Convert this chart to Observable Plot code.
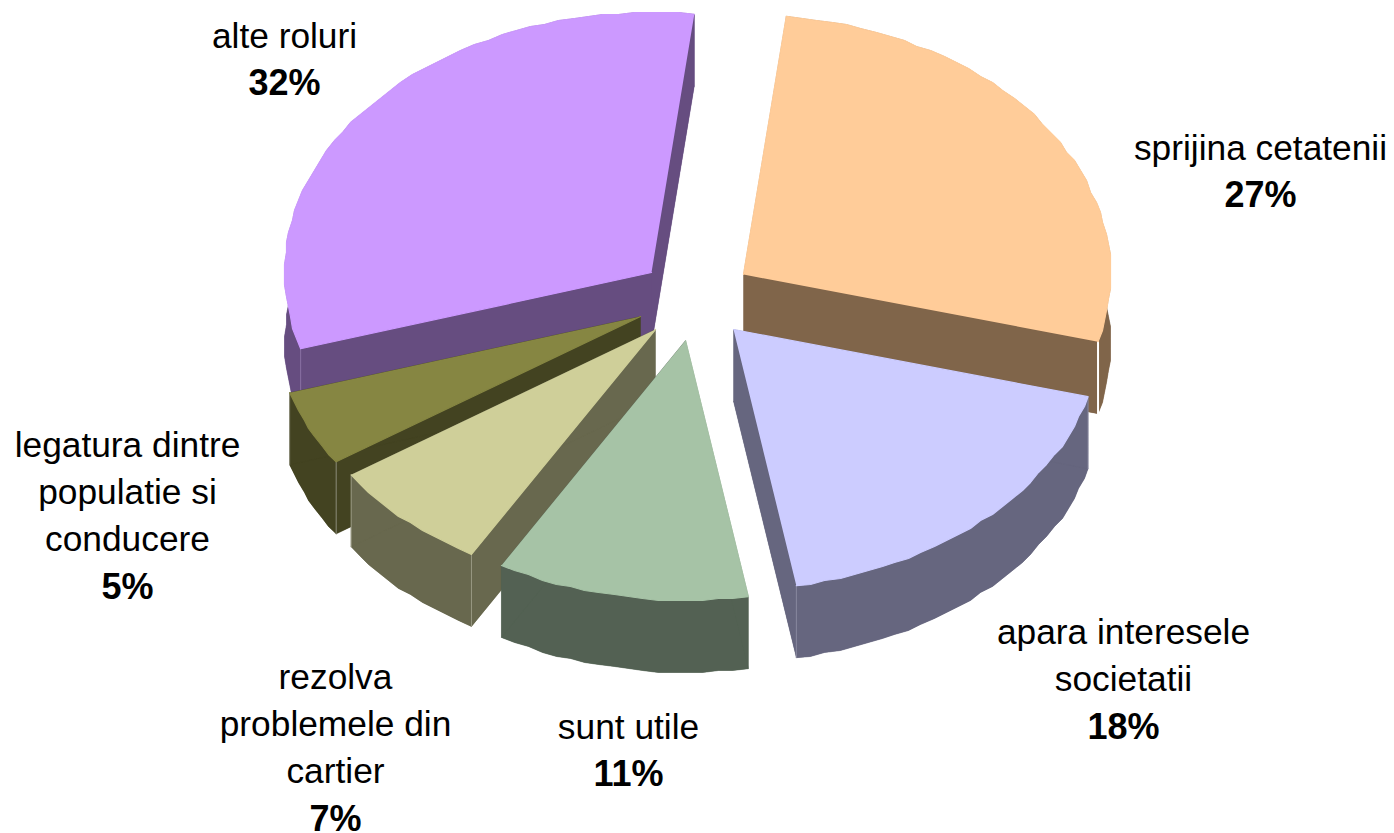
<!DOCTYPE html>
<html><head><meta charset="utf-8">
<script src="https://cdn.jsdelivr.net/npm/d3@7"></script>
<script src="https://cdn.jsdelivr.net/npm/@observablehq/plot@0.6"></script>
<style>html,body{margin:0;padding:0;background:#fff}svg{display:block}</style>
</head><body><div id="chart"></div>
<script>
const categories = ["sprijina cetatenii","apara interesele societatii","sunt utile","rezolva problemele din cartier","legatura dintre populatie si conducere","alte roluri"];
const shares = [27.3,18.1,11.1,7.2,4.7,31.6];

// Styles
const topColors  = ["#FFCC99","#CCCCFF","#A6C3A6","#CFCF99","#868642","#CC99FF"];
const sideColors = ["#80654A","#66667F","#536153","#68684E","#434321","#664D80"];
const seamColors = ["#FFFFFF","#8A8AA0","#536153","#9A9A84","#8E8E7C","#8A72A4"];

// Layout: exploded apex of every slice, its label block, drawing order
const apexX = [743,733,685,655,640,651];
const apexY = [274,329,340,329,316,272];
const labelLines = [["sprijina cetatenii"],["apara interesele","societatii"],["sunt utile"],["rezolva","problemele din","cartier"],["legatura dintre","populatie si","conducere"],["alte roluri"]];
const labelX = [1260,1123,628,335,127,284];
const labelTop = [148,632,727,677,445,36];
const paintOrder = [5,0,4,3,1,2];
const radiusX = 367, radiusY = 260, depth = 72, lineStep = 47.3, fontSize = 35.3, startDeg = 6.7, rimGrid = 2;

const arcs = d3.pie().sort(null).startAngle(startDeg*Math.PI/180).endAngle((360+startDeg)*Math.PI/180)(shares);

function ring(i, a0, a1, dz){
  const n = Math.max(2, Math.ceil((a1-a0)/(2.4*Math.PI/180)));
  const snap = (v,k) => (k===0||k===n) ? v : Math.round(v/rimGrid)*rimGrid;  // the source's coarse rim
  return d3.range(n+1).map(k => {
    const a = a0+(a1-a0)*k/n;
    return {x: snap(apexX[i]+radiusX*Math.sin(a),k), y: snap(apexY[i]-radiusY*Math.cos(a),k)+dz};
  });
}
function sliceMarks(i){
  const {startAngle:a0,endAngle:a1} = arcs[i];
  const apex = {x:apexX[i], y:apexY[i]}, apexLow = {x:apexX[i], y:apexY[i]+depth};
  const top = [apex, ...ring(i,a0,a1,0)];
  const bottom = [apexLow, ...ring(i,a0,a1,depth)];
  const outer = [...ring(i,a0,a1,0), ...ring(i,a0,a1,depth).reverse()];
  const startWall = [apex, ring(i,a0,a0,0)[0], ring(i,a0,a0,depth)[0], apexLow];
  const endWall = [apex, ring(i,a1,a1,0)[0], ring(i,a1,a1,depth)[0], apexLow];
  const side = {fill:sideColors[i], stroke:sideColors[i], strokeWidth:0.3};
  const marks = [bottom, outer, startWall, endWall].map(p => Plot.line(p,{x:"x",y:"y",...side}));
  // vertical seams at the rim corners which face the viewer
  for (const a of [a0,a1]) {
    if (Math.cos(a) < 0 && i !== 2) {
      const c = ring(i,a,a,0)[0];
      marks.push(Plot.line([c,{x:c.x,y:c.y+depth}],{x:"x",y:"y",stroke:seamColors[i],strokeWidth:i===0?2:1}));
    }
  }
  marks.push(Plot.line(top,{x:"x",y:"y",fill:topColors[i],stroke:topColors[i],strokeWidth:1.2}));
  return marks;
}

const labels = categories.flatMap((c,i) => [
  ...labelLines[i].map((t,k) => ({t, x:labelX[i], y:labelTop[i]+k*lineStep, bold:false})),
  {t:Math.round(shares[i])+"%", x:labelX[i], y:labelTop[i]+labelLines[i].length*lineStep, bold:true}
]);

const plot = Plot.plot({
  width:1394, height:833, margin:0,
  x:{domain:[0,1394], range:[0,1394], axis:null},
  y:{domain:[0,833], range:[0,833], axis:null},
  style:{background:"#fff"},
  marks:[
    ...paintOrder.flatMap(sliceMarks),
    Plot.text(labels.filter(d=>!d.bold),{x:"x",y:"y",text:"t",fill:"#000",fontSize,fontFamily:"Liberation Sans",lineAnchor:"middle"}),
    Plot.text(labels.filter(d=>d.bold),{x:"x",y:"y",text:"t",fill:"#000",fontSize:fontSize+0.7,fontWeight:"bold",fontFamily:"Liberation Sans",lineAnchor:"middle"})
  ]
});
document.getElementById("chart").append(plot);
</script></body></html>
